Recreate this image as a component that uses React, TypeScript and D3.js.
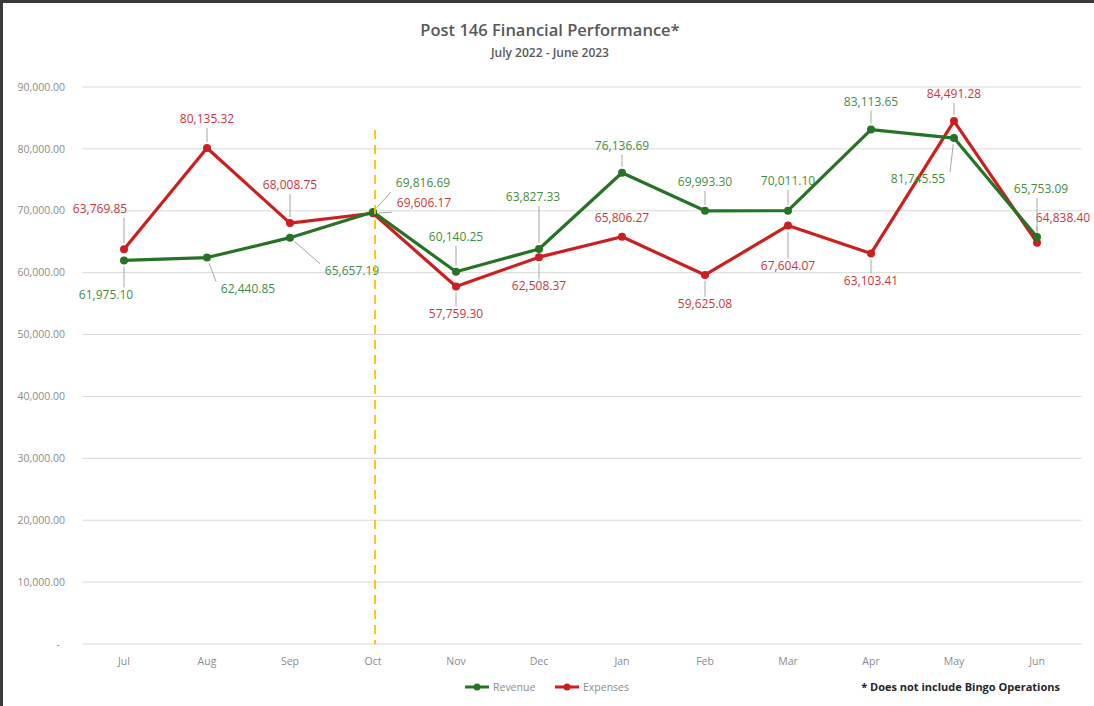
import * as d3 from 'd3';
import React from 'react';

const months = ['Jul', 'Aug', 'Sep', 'Oct', 'Nov', 'Dec', 'Jan', 'Feb', 'Mar', 'Apr', 'May', 'Jun'];
const revenue = [61975.10, 62440.85, 65657.19, 69816.69, 60140.25, 63827.33, 76136.69, 69993.30, 70011.10, 83113.65, 81745.55, 65753.09];
const expenses = [63769.85, 80135.32, 68008.75, 69606.17, 57759.30, 62508.37, 65806.27, 59625.08, 67604.07, 63103.41, 84491.28, 64838.40];
const yTicks = [0, 10000, 20000, 30000, 40000, 50000, 60000, 70000, 80000, 90000];
const markerMonth = 'Oct';

// label placement (pixels relative to the point), like the moved labels in the original
const revOffsets = [[-18, 35], [41, 32], [62, 34], [50, -28], [0, -34], [-6, -51], [0, -26], [0, -28], [0, -29], [0, -27], [-36, 42], [4, -47]];
const expOffsets = [[-24, -40], [0, -28], [0, -37], [51, -9], [0, 28], [0, 30], [0, -18], [0, 30], [0, 41], [0, 28], [0, -26], [26, -24]];

const W = 1094, H = 706;
const margin = { left: 82.5, right: 15.5, top: 87, bottom: 62 };

const fmt = d3.format(',.2f');

const GREEN = '#267326';
const RED = '#cc1f1f';
const GREEN_TXT = '#3f8f3f';
const RED_TXT = '#c8383a';

// leader line: from the point to the nearest spot on the label's box
function leader(px: number, py: number, lx: number, ly: number, tw: number) {
  const hw = tw / 2 + 2, hh = 8;
  const ex = Math.max(lx - hw, Math.min(px, lx + hw));
  const ey = Math.max(ly - hh, Math.min(py, ly + hh));
  const dx = ex - px, dy = ey - py;
  const len = Math.hypot(dx, dy);
  if (len < 12) return null;
  const s = 6 / len;
  return [px + dx * s, py + dy * s, ex, ey];
}

function Series({ values, offsets, color, textColor, x, y }: any) {
  const line = d3.line<number>()
    .x((d, i) => x(months[i]) + x.bandwidth() / 2)
    .y(d => y(d));
  return (
    <g>
      <path d={line(values) || ''} fill="none" stroke={color} strokeWidth={3.2} strokeLinejoin="round" />
      {values.map((v: number, i: number) => (
        <circle key={i} cx={x(months[i]) + x.bandwidth() / 2} cy={y(v)} r={4} fill={color} />
      ))}
      {values.map((v: number, i: number) => {
        const px = x(months[i]) + x.bandwidth() / 2;
        const py = y(v);
        const lx = px + offsets[i][0];
        const ly = py + offsets[i][1];
        const l = leader(px, py, lx, ly, 60);
        return (
          <g key={'l' + i}>
            {l && <line x1={l[0]} y1={l[1]} x2={l[2]} y2={l[3]} stroke="#a6a6a6" strokeWidth={1} />}
            <text x={lx} y={ly} textAnchor="middle" dominantBaseline="middle" fontSize={12} fill={textColor}>{fmt(v)}</text>
          </g>
        );
      })}
    </g>
  );
}

export default function App() {
  const x = d3.scaleBand().domain(months).range([margin.left, W - margin.right]);
  const y = d3.scaleLinear().domain([0, 90000]).range([H - margin.bottom, margin.top]);
  const mx = x(markerMonth)! + x.bandwidth() / 2 + 2;

  return (
    <svg width={W} height={H} style={{ position: 'absolute', left: 0, top: 0, background: '#fff' }}
      fontFamily="'Open Sans', sans-serif">
      <rect x={0} y={0} width={W} height={H} fill="#fff" />
      <line x1={1.5} y1={1} x2={1.5} y2={H} stroke="#3a3a3a" strokeWidth={3} />
      <line x1={0} y1={1.5} x2={W} y2={1.5} stroke="#3a3a3a" strokeWidth={3} />

      <text x={550} y={36} textAnchor="middle" fontSize={16.5} fontWeight={600} fill="#595959">Post 146 Financial Performance*</text>
      <text x={550} y={57} textAnchor="middle" fontSize={12} fontWeight={600} fill="#595959">July 2022 - June 2023</text>

      {yTicks.map(t => (
        <g key={t}>
          <line x1={margin.left} x2={W - margin.right + 3} y1={y(t)} y2={y(t)} stroke="#d9d9d9" strokeWidth={1} />
          <text x={t === 0 ? 60 : 65} y={y(t)} dy="0.35em" textAnchor="end" fontSize={10.5} fill="#8c8c8c">
            {t === 0 ? '-' : fmt(t)}
          </text>
        </g>
      ))}

      {months.map(m => (
        <text key={m} x={x(m)! + x.bandwidth() / 2} y={H - margin.bottom + 21} textAnchor="middle" fontSize={10.5} fill="#8c8c8c">{m}</text>
      ))}

      <Series values={expenses} offsets={expOffsets} color={RED} textColor={RED_TXT} x={x} y={y} />
      <Series values={revenue} offsets={revOffsets} color={GREEN} textColor={GREEN_TXT} x={x} y={y} />

      <line x1={mx} x2={mx} y1={130} y2={y(0)} stroke="#ffc000" strokeWidth={2} strokeDasharray="9,6" opacity={0.9} />

      <g transform="translate(465,687)">
        <line x1={0} x2={24} y1={0} y2={0} stroke={GREEN} strokeWidth={3} />
        <circle cx={12} cy={0} r={3.5} fill={GREEN} />
        <text x={28} y={0} dy="0.35em" fontSize={10.5} fill="#8c8c8c">Revenue</text>
        <line x1={90} x2={114} y1={0} y2={0} stroke={RED} strokeWidth={3} />
        <circle cx={102} cy={0} r={3.5} fill={RED} />
        <text x={118} y={0} dy="0.35em" fontSize={10.5} fill="#8c8c8c">Expenses</text>
      </g>
      <text x={1060} y={687} dy="0.35em" textAnchor="end" fontSize={11} fontWeight={700} fill="#262626">* Does not include Bingo Operations</text>
    </svg>
  );
}
